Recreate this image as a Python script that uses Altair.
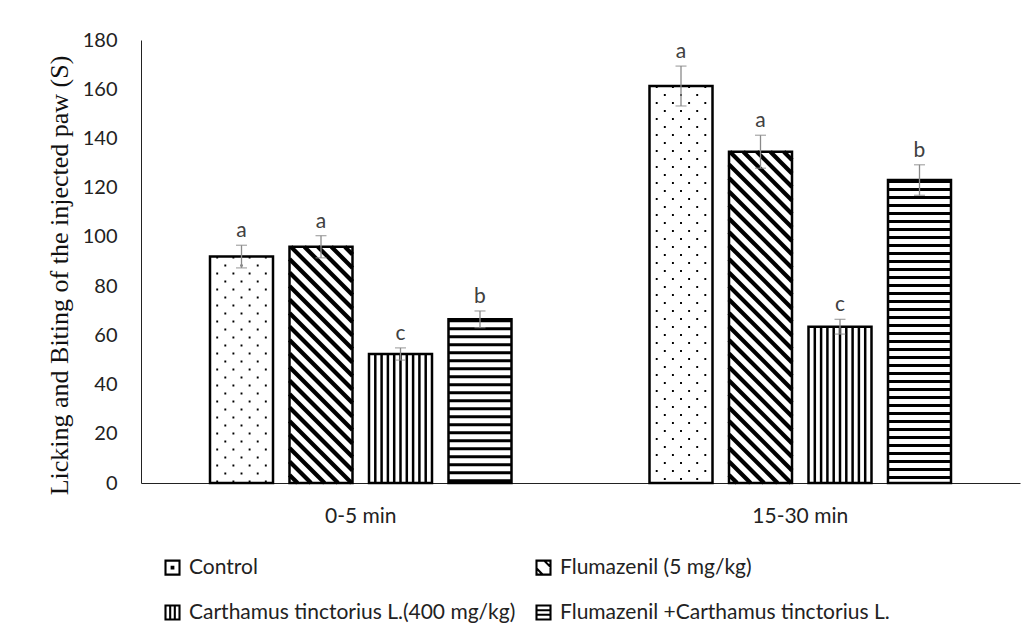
import altair as alt
import pandas as pd

# ---------------- data ----------------
cats = ["0-5 min", "15-30 min"]
groups = [
    "Control",
    "Flumazenil  (5 mg/kg)",
    "Carthamus tinctorius L.(400 mg/kg)",
    "Flumazenil +Carthamus tinctorius L.",
]
control = [92.0, 161.3]
flumazenil = [96.0, 134.6]
carthamus = [52.4, 63.5]
combo = [66.5, 123.1]

control_se = [4.6, 8.1]
flumazenil_se = [4.5, 6.7]
carthamus_se = [2.5, 3.0]
combo_se = [3.4, 6.2]

control_letter = ["a", "a"]
flumazenil_letter = ["a", "a"]
carthamus_letter = ["c", "c"]
combo_letter = ["b", "b"]

y_ticks = [0, 20, 40, 60, 80, 100, 120, 140, 160, 180]
y_title = "Licking and Biting of the injected paw (S)"

values = [control, flumazenil, carthamus, combo]
ses = [control_se, flumazenil_se, carthamus_se, combo_se]
lets = [control_letter, flumazenil_letter, carthamus_letter, combo_letter]

rows = []
for g, name in enumerate(groups):
    for i, c in enumerate(cats):
        rows.append({"cat": c, "group": name, "value": values[g][i],
                     "se": ses[g][i], "letter": lets[g][i]})
df = pd.DataFrame(rows)

# ---------------- layout / style ----------------
W, H = 879, 443
PI, PO = 0.2075, 0.868          # xOffset band paddings
BAND_PX = W / 2
step_f = 1.0 / (4 - PI + 2 * PO)
barw_f = (1 - PI) * step_f
BARW_PX = barw_f * BAND_PX
PXU = H / 180.0


def left_f(g):
    return (PO + g) * step_f


# pattern tables built from the value arrays (fill decoration only)
dots = []
for i, v in enumerate(control):
    center = i + left_f(0) + barw_f / 2
    for j in range(7):
        dots.append({"x": center + (j - 3) * 8.1 / BAND_PX, "top": v, "parity": j % 2})
dots = pd.DataFrame(dots)

vstr = []
for i, v in enumerate(carthamus):
    for k in range(1, 10):
        vstr.append({"x": i + left_f(2) + k * barw_f / 10, "top": v})
vstr = pd.DataFrame(vstr)

diag = []
D = 13.5
seg = 0
for i, v in enumerate(flumazenil):
    h = v * PXU
    w = BARW_PX
    c = D * 0.6
    while c < w + h:
        u0, u1 = max(0.0, c - h), min(w, c)
        if u1 > u0:
            for u in (u0, u1):
                diag.append({"x": i + left_f(1) + u / BAND_PX, "y": (c - u) / PXU, "seg": seg})
            seg += 1
        c += D
diag = pd.DataFrame(diag)

FONT = "Lato"
yaxis = alt.Axis(values=y_ticks, grid=False, ticks=False, tickSize=0, domainColor="#222",
                 labelFont=FONT, labelFontSize=20, labelColor="#222", labelPadding=24,
                 titleFont="Liberation Serif", titleFontSize=26, titleFontWeight="normal",
                 titleColor="#111", titlePadding=10, titleY=235)
yscale = alt.Scale(domain=[0, 180], nice=False)


def Y(field):
    return alt.Y(field, type="quantitative", scale=yscale, axis=yaxis, title=y_title)


# ---------------- pattern layer (quantitative x aligned with category bands) ----------------
XQ = alt.X("x:Q", scale=alt.Scale(domain=[0, 2], nice=False, zero=False), axis=None)

dots_even = alt.Chart(dots).transform_filter("datum.parity == 0").mark_rule(
    color="black", strokeWidth=1.9, strokeDash=[1.9, 14.1]).encode(x=XQ, y=Y("top"), y2=alt.datum(0))
dots_odd = alt.Chart(dots).transform_filter("datum.parity == 1").mark_rule(
    color="black", strokeWidth=1.9, strokeDash=[1.9, 14.1], strokeDashOffset=8).encode(
    x=XQ, y=Y("top"), y2=alt.datum(0))
vlines = alt.Chart(vstr).mark_rule(color="black", strokeWidth=2.5).encode(
    x=XQ, y=Y("top"), y2=alt.datum(0))
dlines = alt.Chart(diag).mark_line(color="black", strokeWidth=4.2).encode(
    x=XQ, y=Y("y"), detail="seg:N")

patterns = alt.layer(dots_even, dots_odd, vlines, dlines)

# ---------------- band layer ----------------
XB = alt.X("cat:N", scale=alt.Scale(domain=cats, paddingInner=0, paddingOuter=0), title=None,
           axis=alt.Axis(labelAngle=0, ticks=False, tickSize=0, domainColor="#222",
                         labelFont=FONT, labelFontSize=21, labelColor="#222", labelPadding=22))
XO = alt.XOffset("group:N", scale=alt.Scale(domain=groups, paddingInner=PI, paddingOuter=PO))

base = alt.Chart(df).transform_calculate(lo="datum.value - datum.se", hi="datum.value + datum.se")

hstripes = base.transform_filter(alt.datum.group == groups[3]).mark_rule(
    color="black", strokeWidth=BARW_PX, strokeDash=[3, 5]).encode(
    x=XB, xOffset=XO, y=Y("value"), y2=alt.datum(0))

outline = base.mark_bar(fill="transparent", stroke="black", strokeWidth=2.5).encode(
    x=XB, xOffset=XO, y=Y("value"))

err = base.mark_rule(color="#8a8a8a", strokeWidth=1.3).encode(
    x=XB, xOffset=XO, y=Y("lo"), y2="hi:Q")

caps = base.transform_fold(["lo", "hi"], as_=["k", "v"]).mark_tick(
    color="#8a8a8a", thickness=1.3, size=11, orient="horizontal").encode(
    x=XB, xOffset=XO, y=Y("v"))

labels = base.mark_text(font=FONT, fontSize=21, color="#404040", baseline="alphabetic", dy=-8).encode(
    x=XB, xOffset=XO, y=Y("hi"), text="letter:N")

paths = [
    "M-1,-1H1V1H-1Z M-0.12,-0.12H0.12V0.12H-0.12Z",
    "M-1,-1H1V1H-1Z M1,-1L0.1,-1L1,-0.1Z M-1,1L-0.1,1L-1,0.1Z",
    "M-1,-1H1V1H-1Z M-0.33,-1V1 M0.33,-1V1",
    "M-1,-1H1V1H-1Z M-1,-0.33H1 M-1,0.33H1",
]
legend_pts = base.mark_point(opacity=0, filled=False, color="black", strokeWidth=2.1).encode(
    x=XB, xOffset=XO, y=Y("value"),
    shape=alt.Shape("group:N", scale=alt.Scale(domain=groups, range=paths),
                    legend=alt.Legend(title=None, orient="none", legendX=21, legendY=517,
                                      direction="horizontal",
                                      columns=2, columnPadding=16, rowPadding=22, padding=0,
                                      symbolSize=196, symbolStrokeWidth=2.1, symbolOpacity=1,
                                      symbolStrokeColor="black", labelFont=FONT, labelFontSize=21,
                                      labelColor="#222", labelOffset=6, labelLimit=0)))

band = alt.layer(hstripes, outline, err, caps, labels, legend_pts)

chart = alt.layer(patterns, band).resolve_scale(x="independent").properties(
    width=W, height=H,
    padding={"left": 133, "top": 32, "right": 6, "bottom": 150},
    autosize=alt.AutoSizeParams(type="none"),
).configure_view(stroke=None)

chart.save("out.html", embed_options={"renderer": "svg", "actions": False})
